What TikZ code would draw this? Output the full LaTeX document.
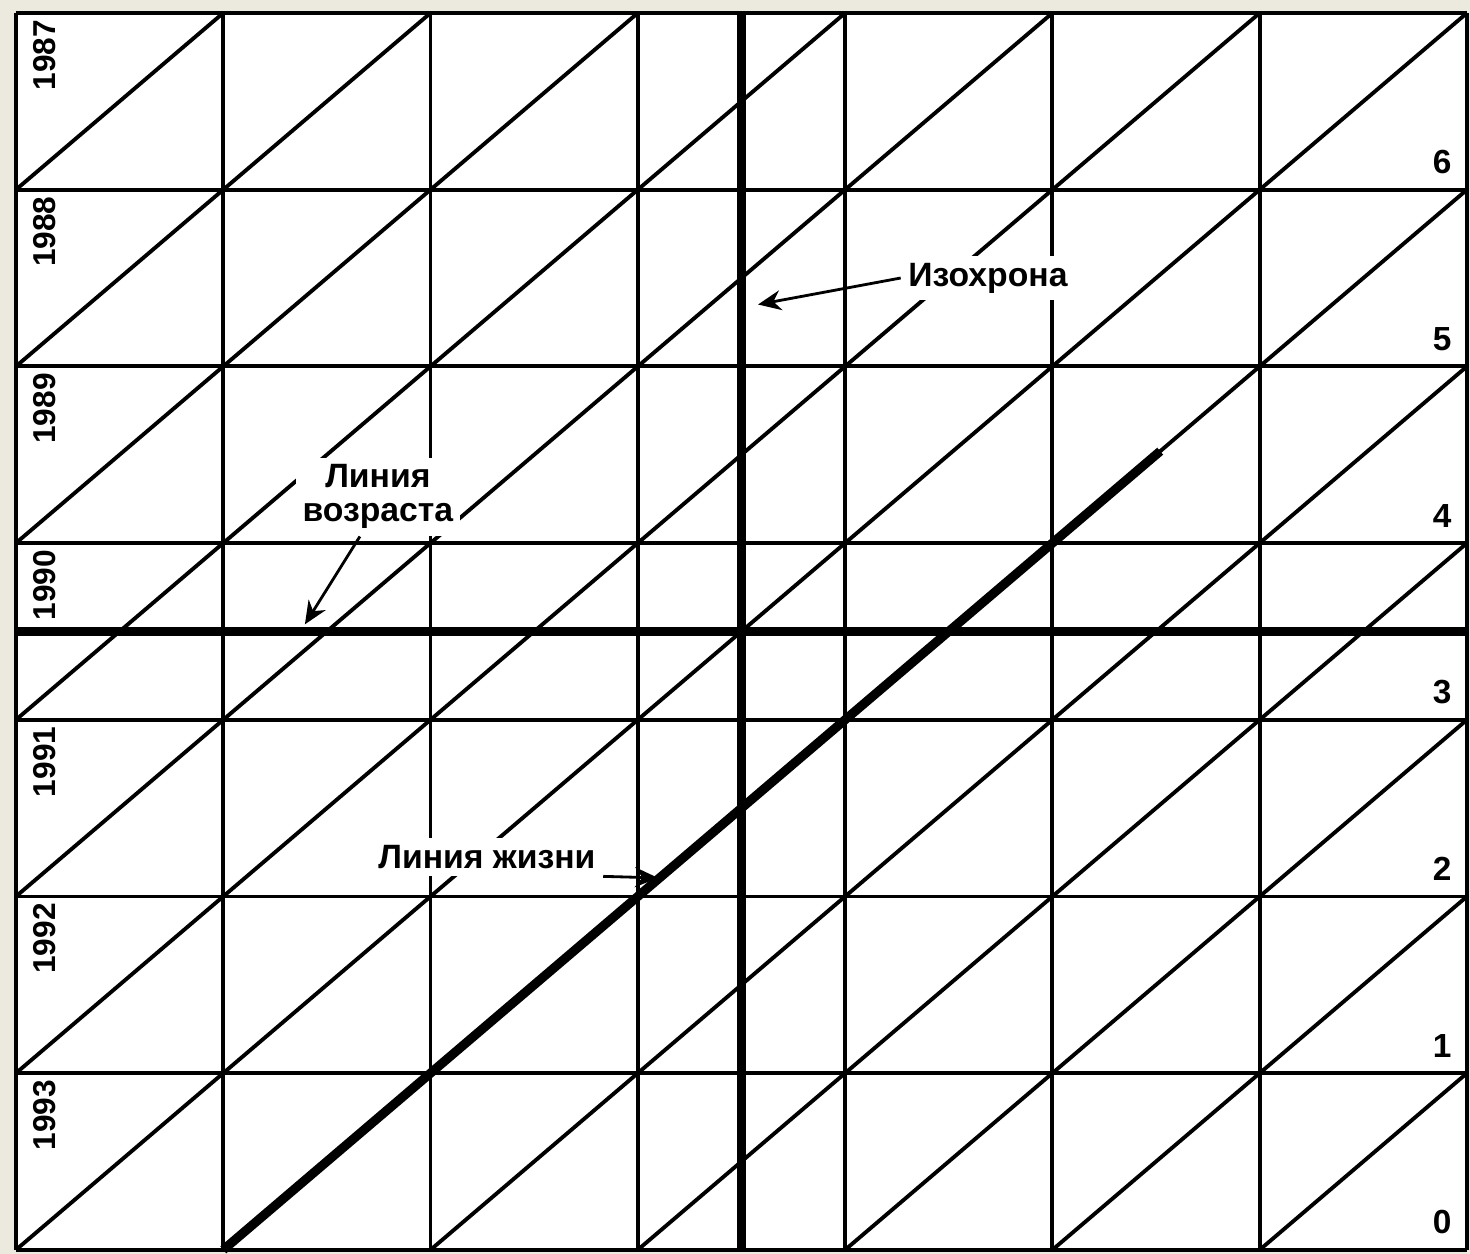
\documentclass[tikz,border=0pt]{standalone}
\usepackage{fontspec}
\setmainfont{Liberation Sans}
\usepackage{tikz}
\usetikzlibrary{arrows.meta}
\definecolor{paper}{RGB}{236,234,222}
\tikzstyle{gridline} = [line width=1.1pt, black]
\tikzstyle{thickline} = [line width=2.6pt, black]
\tikzstyle{note} = [fill=white, inner sep=2pt, align=center, font=\bfseries\fontsize{9.6}{9.6}\selectfont]
\tikzstyle{yearlabel} = [rotate=90, anchor=east, inner sep=0pt, font=\bfseries\fontsize{9}{9.5}\selectfont]
\tikzstyle{agelabel} = [anchor=south east, inner sep=0pt, font=\bfseries\fontsize{9.5}{9.5}\selectfont]
\tikzstyle{arrow} = [thick,->,>={Stealth[length=2.3mm,width=2mm]}]

\begin{document}
\begin{tikzpicture}[x=2.073cm, y=1.767cm]
        \fill [paper] (-0.077,-0.023) rectangle (7.0145,7.0736);
        \useasboundingbox (-0.077,-0.023) rectangle (7.0145,7.0736);
        \fill [white] (0,0) rectangle (7,7);

        % cohort diagonals and grid
        \begin{scope}
                \clip (0,0) rectangle (7,7);
                \foreach \k in {-7,...,6}
                        \draw [gridline] (\k,0) -- (\k+7,7);
        \end{scope}
        \foreach \i in {0,...,7} {
                \draw [gridline] (\i,0) -- (\i,7);
                \draw [gridline] (0,\i) -- (7,\i);
        }

        % isochrone, age line and life line
        \draw [thickline] (3.5,0) -- (3.5,7);
        \draw [thickline] (0,3.5) -- (7,3.5);
        \draw [thickline] (1,0) -- (5.52,4.52);

        \foreach \i in {0,...,6} {
                \pgfmathtruncatemacro{\yr}{1993-\i}
                \node (yr\yr) [yearlabel] at (0.14,\i+0.965) {\yr};
                \node (age\i) [agelabel] at (6.928,\i+0.085) {\i};
        }

        \node (izo) [note] at (4.689,5.50) {Изохрона};
        \node (vozr) [note] at (1.746,4.262) {Линия\\возраста};
        \node (zhizn) [note] at (2.272,2.224) {Линия жизни};

        \coordinate (izotip) at (3.58,5.35);
        \coordinate (vozrtip) at (1.394,3.54);
        \coordinate (zhizntip) at (3.097,2.105);

        \draw [arrow] (izo.west) -- (izotip);
        \draw [arrow] ([xshift=-0.18cm]vozr.south) -- (vozrtip);
        \draw [arrow] (zhizn.south east) -- (zhizntip);
\end{tikzpicture}
\end{document}
